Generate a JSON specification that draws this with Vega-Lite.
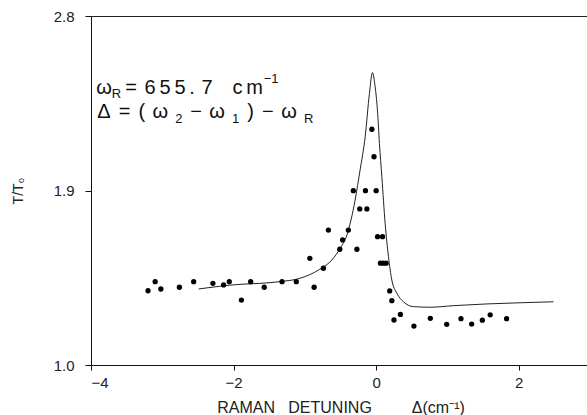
{
  "$schema": "https://vega.github.io/schema/vega-lite/v6.json",
  "width": 499,
  "height": 349,
  "autosize": "none",
  "padding": {"left": 91, "top": 16, "right": 0, "bottom": 50},
  "background": "white",
  "config": {
    "view": {"stroke": "#222", "strokeWidth": 1},
    "font": "Liberation Sans",
    "axis": {"domainColor": "#111", "tickColor": "#111", "labelColor": "#222", "titleColor": "#222", "labelFont": "Liberation Sans", "titleFont": "Liberation Sans", "grid": false, "titleFontWeight": "normal", "domainWidth": 1, "tickWidth": 1}
  },
  "datasets": {
    "pts": [
      {"x": -3.20, "y": 1.383}, {"x": -3.10, "y": 1.430}, {"x": -3.02, "y": 1.392}, {"x": -2.76, "y": 1.401},
      {"x": -2.56, "y": 1.430}, {"x": -2.29, "y": 1.421}, {"x": -2.14, "y": 1.413}, {"x": -2.06, "y": 1.430},
      {"x": -1.89, "y": 1.335}, {"x": -1.76, "y": 1.430}, {"x": -1.57, "y": 1.401}, {"x": -1.32, "y": 1.430},
      {"x": -1.12, "y": 1.430}, {"x": -0.93, "y": 1.550}, {"x": -0.87, "y": 1.401}, {"x": -0.74, "y": 1.499},
      {"x": -0.67, "y": 1.696}, {"x": -0.51, "y": 1.597}, {"x": -0.47, "y": 1.645}, {"x": -0.39, "y": 1.696},
      {"x": -0.32, "y": 1.899}, {"x": -0.27, "y": 1.597}, {"x": -0.23, "y": 1.805}, {"x": -0.13, "y": 1.805},
      {"x": -0.15, "y": 1.899}, {"x": -0.06, "y": 2.216}, {"x": -0.03, "y": 2.074}, {"x": 0.00, "y": 1.899},
      {"x": 0.02, "y": 1.662}, {"x": 0.09, "y": 1.662}, {"x": 0.06, "y": 1.525}, {"x": 0.10, "y": 1.525},
      {"x": 0.14, "y": 1.525}, {"x": 0.19, "y": 1.382}, {"x": 0.22, "y": 1.332}, {"x": 0.25, "y": 1.232},
      {"x": 0.34, "y": 1.261}, {"x": 0.53, "y": 1.201}, {"x": 0.76, "y": 1.241}, {"x": 0.99, "y": 1.210},
      {"x": 1.19, "y": 1.239}, {"x": 1.34, "y": 1.211}, {"x": 1.49, "y": 1.231}, {"x": 1.60, "y": 1.259},
      {"x": 1.83, "y": 1.239}
    ],
    "curve": [
      {"x": -2.49, "y": 1.392}, {"x": -1.91, "y": 1.416}, {"x": -1.63, "y": 1.421}, {"x": -1.35, "y": 1.430},
      {"x": -1.07, "y": 1.447}, {"x": -0.79, "y": 1.494}, {"x": -0.62, "y": 1.542}, {"x": -0.505, "y": 1.602},
      {"x": -0.41, "y": 1.670}, {"x": -0.295, "y": 1.851}, {"x": -0.225, "y": 2.006}, {"x": -0.154, "y": 2.177},
      {"x": -0.094, "y": 2.401}, {"x": -0.052, "y": 2.508}, {"x": -0.014, "y": 2.435}, {"x": 0.018, "y": 2.315},
      {"x": 0.046, "y": 2.143}, {"x": 0.080, "y": 1.971}, {"x": 0.126, "y": 1.731}, {"x": 0.173, "y": 1.559},
      {"x": 0.220, "y": 1.438}, {"x": 0.291, "y": 1.370}, {"x": 0.383, "y": 1.326}, {"x": 0.524, "y": 1.301},
      {"x": 0.758, "y": 1.298}, {"x": 1.085, "y": 1.306}, {"x": 1.554, "y": 1.315}, {"x": 2.021, "y": 1.321},
      {"x": 2.488, "y": 1.326}
    ],
    "glyphs": [
      {"t": "ω", "x": -3.818, "y": 2.398}, {"t": "=", "x": -3.439, "y": 2.398}, {"t": "6", "x": -3.172, "y": 2.398},
      {"t": "5", "x": -2.961, "y": 2.398}, {"t": "5", "x": -2.751, "y": 2.398}, {"t": ".", "x": -2.582, "y": 2.398},
      {"t": "7", "x": -2.372, "y": 2.398}, {"t": "c", "x": -1.944, "y": 2.398}, {"t": "m", "x": -1.705, "y": 2.398},
      {"t": "Δ", "x": -3.820, "y": 2.274}, {"t": "=", "x": -3.528, "y": 2.274}, {"t": "(", "x": -3.288, "y": 2.274},
      {"t": "ω", "x": -3.028, "y": 2.274}, {"t": "−", "x": -2.526, "y": 2.274}, {"t": "ω", "x": -2.230, "y": 2.274},
      {"t": ")", "x": -1.762, "y": 2.274}, {"t": "−", "x": -1.519, "y": 2.274}, {"t": "ω", "x": -1.223, "y": 2.274}
    ],
    "small": [
      {"t": "R", "x": -3.642, "y": 2.377}, {"t": "−1", "x": -1.474, "y": 2.454},
      {"t": "2", "x": -2.767, "y": 2.248}, {"t": "1", "x": -1.970, "y": 2.248}, {"t": "R", "x": -0.948, "y": 2.248}
    ]
  },
  "encoding": {
    "x": {"field": "x", "type": "quantitative", "scale": {"domain": [-4, 3], "nice": false, "zero": false},
      "axis": {"values": [-4, -2, 0, 2], "format": "d", "tickSize": 5, "labelFontSize": 15, "labelPadding": 5,
        "title": "RAMAN\u00a0\u00a0\u00a0DETUNING\u00a0\u00a0\u00a0\u00a0\u00a0\u00a0\u00a0\u00a0\u00a0Δ(cm⁻¹)", "titleFontSize": 16, "titlePadding": 9}},
    "y": {"field": "y", "type": "quantitative", "scale": {"domain": [1.0, 2.8], "nice": false, "zero": false},
      "axis": {"values": [1.0, 1.9, 2.8], "format": ".1f", "tickSize": 6, "labelFontSize": 15, "labelPadding": 11,
        "title": "T/T₀", "titleFontSize": 14, "titleX": -66, "titleY": 174.5, "titleAngle": -90, "titleBaseline": "bottom", "titleAlign": "center"}}
  },
  "layer": [
    {"data": {"name": "curve"}, "mark": {"type": "line", "interpolate": "monotone", "color": "#222", "strokeWidth": 1}},
    {"data": {"name": "pts"}, "mark": {"type": "circle", "size": 28, "color": "#000", "opacity": 1}},
    {"data": {"name": "glyphs"}, "mark": {"type": "text", "font": "Liberation Sans", "fontSize": 20, "align": "center", "baseline": "alphabetic", "color": "#111"},
      "encoding": {"text": {"field": "t", "type": "nominal"}}},
    {"data": {"name": "small"}, "mark": {"type": "text", "font": "Liberation Sans", "fontSize": 13, "align": "center", "baseline": "alphabetic", "color": "#111"},
      "encoding": {"text": {"field": "t", "type": "nominal"}}}
  ]
}
